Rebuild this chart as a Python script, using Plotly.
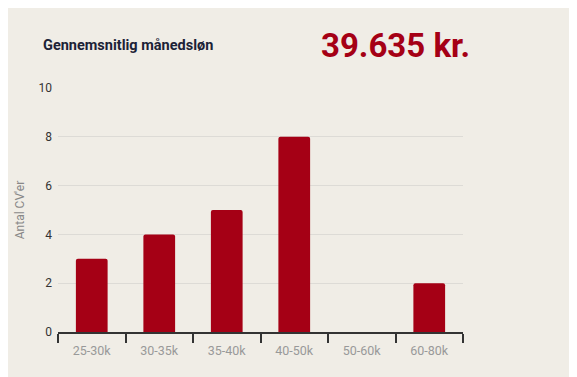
import plotly.graph_objects as go

categories = ["25-30k", "30-35k", "35-40k", "40-50k", "50-60k", "60-80k"]
counts = [3, 4, 5, 8, 0, 2]
y_ticks = [0, 2, 4, 6, 8, 10]

bg = "#f0ede6"
red = "#a50015"

fig = go.Figure(go.Bar(
    x=categories, y=counts,
    marker=dict(color=red, line=dict(width=0), cornerradius=2),
    width=0.47,
))

fig.update_layout(
    width=577, height=377,
    paper_bgcolor=bg, plot_bgcolor=bg,
    margin=dict(l=50, r=122, t=80, b=53),
    showlegend=False,
    font=dict(family="Roboto", size=12, color="#333"),
    xaxis=dict(
        automargin=False,
        tickson="boundaries", ticks="outside", ticklen=9, tickcolor="#333", tickwidth=1.5,
        showline=True, linecolor="#333", linewidth=1.5,
        tickfont=dict(color="#999", size=12.5), showgrid=False,
        ticklabelstandoff=6,
    ),
    yaxis=dict(
        automargin=False,
        range=[0, 10], tickvals=y_ticks, gridcolor="#dddbd6", gridwidth=1,
        zeroline=False, tickfont=dict(color="#333", size=12),
        title=dict(text="Antal CV'er", font=dict(color="#888", size=12), standoff=11),
        ticklabelstandoff=5,
    ),
    annotations=[
        dict(text="<b>Gennemsnitlig månedsløn</b>", xref="paper", yref="paper",
             x=-0.042, y=1.176, xanchor="left", yanchor="middle", showarrow=False,
             font=dict(family="Roboto", size=14.5, color="#1c2236")),
        dict(text="<b>39.635 kr.</b>", xref="paper", yref="paper",
             x=1.022, y=1.176, xanchor="right", yanchor="middle", showarrow=False,
             font=dict(family="Roboto", size=33, color=red)),
    ],
)

fig.write_html("out.html")
